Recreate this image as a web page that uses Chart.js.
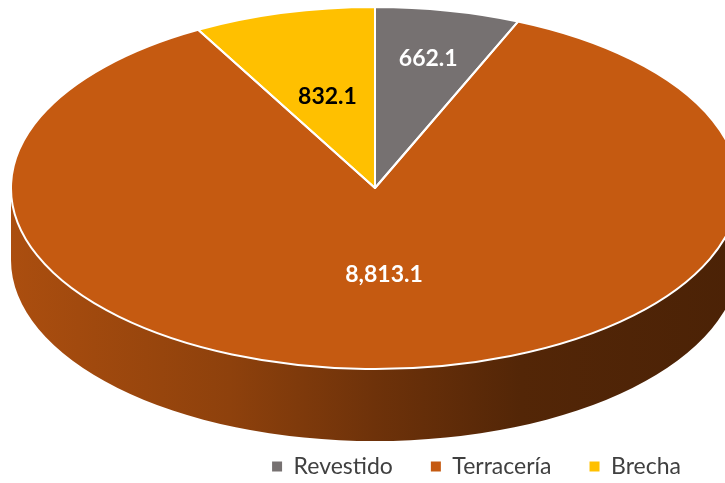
<!DOCTYPE html>
<html>
<head>
<meta charset="utf-8">
<script src="https://cdn.jsdelivr.net/npm/chart.js@4"></script>
<style>
  body { margin: 0; background: #fff; }
  #wrap { width: 725px; height: 483px; position: relative; }
</style>
</head>
<body>
<div id="wrap"><canvas id="chart"></canvas></div>
<script>
// data
const categories = ["Revestido", "Terracería", "Brecha"];
const values = [662.1, 8813.1, 832.1];

// look
const sliceColors = ["#767171", "#C55A11", "#FFC000"];
const labelColors = ["#ffffff", "#ffffff", "#000000"];
const labelRadius = [0.73, 0.48, 0.52];

// where the tilted pie sits on the page
const pie3d = { cx: 375, cy: 188, rx: 364, ry: 181, depth: 72 };

function shade(hex, k) {
    const n = parseInt(hex.slice(1), 16);
    const r = Math.round(((n >> 16) & 255) * k);
    const g = Math.round(((n >> 8) & 255) * k);
    const b = Math.round((n & 255) * k);
    return `rgb(${r},${g},${b})`;
}

const tiltPlugin = {
    id: "tilt",
    beforeDatasetsDraw(chart) {
        const ctx = chart.ctx;
        const meta = chart.getDatasetMeta(0);
        const { cx, cy, rx, ry, depth } = pie3d;

        // side walls for the front half
        meta.data.forEach((arc, i) => {
            const a0 = Math.max(arc.startAngle, 0);
            const a1 = Math.min(arc.endAngle, Math.PI);
            if (a1 <= a0) return;
            const base = sliceColors[i];
            const grad = ctx.createLinearGradient(cx - rx, 0, cx + rx, 0);
            grad.addColorStop(0, shade(base, 0.87));
            grad.addColorStop(0.3, shade(base, 0.72));
            grad.addColorStop(0.5, shade(base, 0.56));
            grad.addColorStop(0.7, shade(base, 0.42));
            grad.addColorStop(1, shade(base, 0.38));
            ctx.save();
            ctx.beginPath();
            ctx.ellipse(cx, cy, rx, ry, 0, a0, a1);
            ctx.ellipse(cx, cy + depth, rx, ry, 0, a1, a0, true);
            ctx.closePath();
            ctx.fillStyle = grad;
            ctx.fill();
            ctx.restore();
        });

        // squash the round pie into the ellipse
        const first = meta.data[0];
        const R = first.outerRadius;
        ctx.save();
        ctx.translate(cx, cy);
        ctx.scale(rx / R, ry / R);
        ctx.translate(-first.x, -first.y);
    },
    afterDatasetsDraw(chart) {
        const ctx = chart.ctx;
        ctx.restore();
        const meta = chart.getDatasetMeta(0);
        const { cx, cy, rx, ry } = pie3d;

        // white outlines
        ctx.save();
        ctx.strokeStyle = "#ffffff";
        ctx.lineWidth = 2;
        ctx.lineJoin = "round";
        meta.data.forEach(arc => {
            ctx.beginPath();
            ctx.moveTo(cx, cy);
            ctx.ellipse(cx, cy, rx, ry, 0, arc.startAngle, arc.endAngle);
            ctx.closePath();
            ctx.stroke();
        });
        ctx.restore();

        // value labels
        ctx.save();
        ctx.font = "bold 23px Lato";
        ctx.textAlign = "center";
        ctx.textBaseline = "middle";
        meta.data.forEach((arc, i) => {
            const mid = (arc.startAngle + arc.endAngle) / 2;
            const f = labelRadius[i];
            const x = cx + rx * f * Math.cos(mid);
            const y = cy + ry * f * Math.sin(mid);
            ctx.fillStyle = labelColors[i];
            ctx.fillText(values[i].toLocaleString("en-US", { minimumFractionDigits: 1 }), x, y);
        });
        ctx.restore();
    }
};

const chart = document.querySelector("#chart").getContext("2d");

new Chart(chart, {
    type: "pie",
    data: {
        labels: categories,
        datasets: [
            {
                data: values,
                backgroundColor: sliceColors,
                borderWidth: 0,
                clip: false
            }
        ]
    },
    options: {
        responsive: true,
        maintainAspectRatio: false,
        animation: false,
        events: [],
        layout: { padding: { left: 228, bottom: -5 } },
        plugins: {
            tooltip: { enabled: false },
            legend: {
                position: "bottom",
                labels: {
                    boxWidth: 10,
                    boxHeight: 10,
                    padding: 38,
                    color: "#404040",
                    font: { family: "Lato", size: 23 }
                }
            }
        }
    },
    plugins: [tiltPlugin]
});
</script>
</body>
</html>
